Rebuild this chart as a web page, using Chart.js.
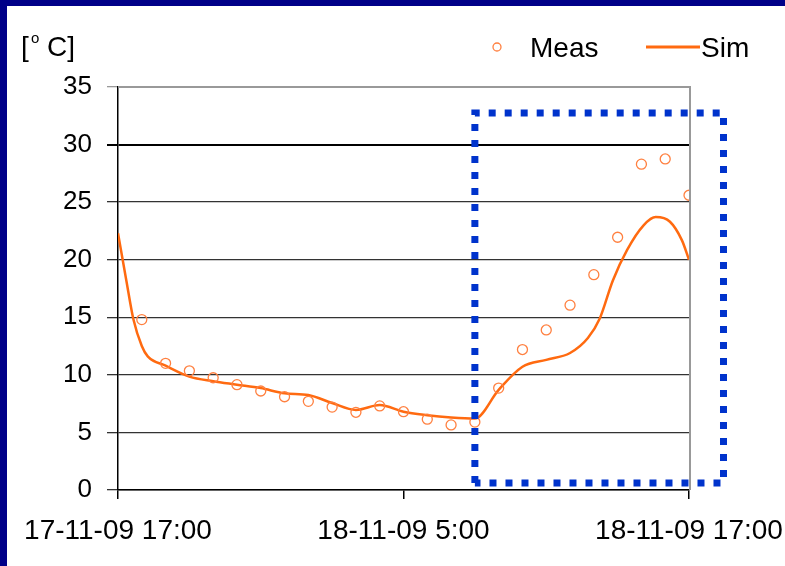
<!DOCTYPE html>
<html>
<head>
<meta charset="utf-8">
<script src="https://cdn.jsdelivr.net/npm/chart.js@4"></script>
<style>
  html, body { margin: 0; padding: 0; background: #fff; }
  #wrap { width: 785px; height: 566px; }
</style>
</head>
<body>
<div id="wrap"><canvas id="tempChart" width="785" height="566"></canvas></div>
<script>
// hours after 17-11-09 17:00
const measHours = [1, 2, 3, 4, 5, 6, 7, 8, 9, 10, 11, 12, 13, 14, 15, 16, 17, 18, 19, 20, 21, 22, 23, 24];
const measTemps = [14.8, 11.0, 10.35, 9.75, 9.15, 8.6, 8.1, 7.7, 7.2, 6.75, 7.3, 6.8, 6.15, 5.65, 5.9, 8.85, 12.2, 13.9, 16.05, 18.7, 21.95, 28.3, 28.75, 25.6];

const simHours = [0, 0.35, 0.65, 1, 1.25, 2, 3, 4, 5, 6, 7, 8, 9, 10, 11, 12, 13, 14, 15, 16, 17, 18, 19, 19.75, 20.25, 20.8, 21.4, 22.1, 22.6, 23.2, 23.7, 24];
const simTemps = [22.3, 18.2, 14.8, 12.5, 11.6, 10.8, 9.85, 9.45, 9.15, 8.85, 8.4, 8.25, 7.55, 6.95, 7.38, 6.8, 6.5, 6.3, 6.2, 8.7, 10.7, 11.3, 11.9, 13.2, 14.9, 18.2, 20.85, 23.0, 23.7, 23.3, 21.7, 20.0];

const xTickHours = [0, 12, 24];
const xTickLabels = ['17-11-09 17:00', '18-11-09 5:00', '18-11-09 17:00'];

// dotted highlight box, in data units (hours, degC)
const boxHours = [15, 25.45];
const boxTemps = [0.6, 32.75];

const FONT = '"Liberation Sans", Arial, sans-serif';

// frame, plot border, unit label, legend and the dotted box
const decorPlugin = {
  id: 'decor',
  beforeDraw(chart) {
    const c = chart.ctx;
    c.save();
    c.fillStyle = '#fff';
    c.fillRect(0, 0, chart.width, chart.height);
    c.fillStyle = '#000088';
    c.fillRect(0, 0, chart.width, 6);
    c.fillRect(0, 0, 7, chart.height);
    c.restore();
  },
  beforeDatasetsDraw(chart) {
    const a = chart.chartArea, c = chart.ctx;
    c.save();
    c.strokeStyle = '#999';
    c.lineWidth = 2;
    c.beginPath();
    c.moveTo(a.left, a.top);
    c.lineTo(a.right + 1, a.top);
    c.lineTo(a.right + 1, a.bottom);
    c.stroke();
    c.restore();
  },
  afterDraw(chart) {
    const c = chart.ctx, x = chart.scales.x, y = chart.scales.y;
    c.save();
    // unit label
    c.fillStyle = '#000';
    c.textBaseline = 'alphabetic';
    c.font = '28px ' + FONT;
    c.fillText('[', 21, 56);
    c.font = '15px ' + FONT;
    c.fillText('o', 31, 43);
    c.font = '28px ' + FONT;
    c.fillText('C]', 47, 56);

    // legend
    c.strokeStyle = '#FF8040';
    c.lineWidth = 1.3;
    c.beginPath();
    c.arc(497, 47, 4, 0, Math.PI * 2);
    c.stroke();
    c.fillText('Meas', 530, 57);
    c.strokeStyle = '#FF6A10';
    c.lineWidth = 3;
    c.beginPath();
    c.moveTo(646, 47);
    c.lineTo(700, 47);
    c.stroke();
    c.fillText('Sim', 701, 57);

    // dotted box
    const l = x.getPixelForValue(boxHours[0]), r = x.getPixelForValue(boxHours[1]);
    const t = y.getPixelForValue(boxTemps[1]), b = y.getPixelForValue(boxTemps[0]);
    c.strokeStyle = '#0033CC';
    c.lineWidth = 7;
    c.setLineDash([7, 9]);
    c.beginPath();
    c.moveTo(l, b);
    c.lineTo(l, t);
    c.lineTo(r, t);
    c.lineTo(r, b);
    c.lineTo(l, b);
    c.stroke();
    c.restore();
  }
};

new Chart(document.getElementById('tempChart'), {
  type: 'line',
  data: {
    datasets: [
      {
        label: 'Meas',
        data: measHours.map((h, i) => ({ x: h, y: measTemps[i] })),
        showLine: false,
        pointStyle: 'circle',
        pointRadius: 5,
        pointBorderColor: '#FF8040',
        pointBackgroundColor: 'rgba(255,255,255,0)',
        pointBorderWidth: 1.3
      },
      {
        label: 'Sim',
        data: simHours.map((h, i) => ({ x: h, y: simTemps[i] })),
        borderColor: '#FF6A10',
        borderWidth: 2.5,
        pointRadius: 0,
        cubicInterpolationMode: 'monotone',
        fill: false
      }
    ]
  },
  options: {
    responsive: false,
    animation: false,
    layout: { padding: { top: 87, right: 96, left: 0, bottom: 0 } },
    plugins: { legend: { display: false }, tooltip: { enabled: false } },
    scales: {
      x: {
        type: 'linear',
        min: 0,
        max: 24,
        afterBuildTicks: axis => { axis.ticks = xTickHours.map(v => ({ value: v })); },
        afterFit: axis => { axis.height = 76; axis.paddingLeft = 0; axis.paddingRight = 0; },
        ticks: {
          autoSkip: false,
          maxRotation: 0,
          padding: 15,
          color: '#000',
          font: { family: FONT, size: 28 },
          callback: v => xTickLabels[xTickHours.indexOf(v)]
        },
        grid: { drawOnChartArea: false, drawTicks: true, tickLength: 9, color: '#000', lineWidth: 1.5 },
        border: { color: '#000', width: 1.5 }
      },
      y: {
        min: 0,
        max: 35,
        afterFit: axis => { axis.width = 118; },
        ticks: {
          stepSize: 5,
          padding: 15,
          color: '#000',
          font: { family: FONT, size: 26 }
        },
        grid: {
          tickLength: 11,
          color: ctx => ctx.tick.value === 30 ? '#000' : (ctx.tick.value === 35 ? '#999' : '#333'),
          lineWidth: ctx => ctx.tick.value === 30 ? 2 : 1.3
        },
        border: { color: '#000', width: 1.5 }
      }
    }
  },
  plugins: [decorPlugin]
});
</script>
</body>
</html>
